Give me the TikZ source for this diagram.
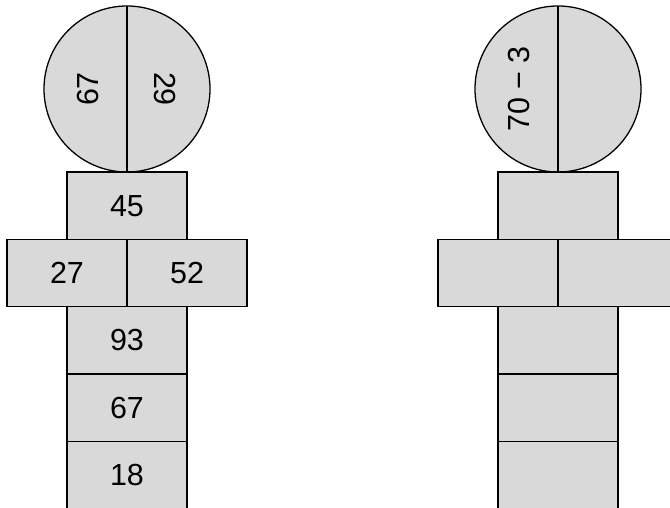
\documentclass[tikz,border=0pt]{standalone}
\usepackage{fontspec}
\setmainfont{Liberation Sans}
\usetikzlibrary{positioning}

\begin{document}
\begin{tikzpicture}[
    x=0.03cm, y=-0.03cm,
    node distance=0pt,
    brick/.style={rectangle, draw=black, line width=1.1pt, fill=black!15, inner sep=0pt, outer sep=0pt, minimum width=3.6cm, minimum height=2.02cm, font=\fontsize{26}{30}\selectfont},
    head/.style={circle, draw=black, line width=1.1pt, fill=black!15, inner sep=0pt, outer sep=0pt, minimum size=4.98cm},
    num/.style={font=\fontsize{26}{30}\selectfont, inner sep=0pt},
    divider/.style={line width=1.1pt}
]
    \useasboundingbox (0,0) rectangle (670,508);
    \clip (0,0) rectangle (670,508);

    % --- LEFT FIGURE ---
    \node[head] (H1) at (127,89) {};
    \draw[divider] (H1.north) -- (H1.south);
    \node[num, rotate=90] (H1a) at (88,89) {67};
    \node[num, rotate=-90] (H1b) at (165,89) {29};
    \node[brick, below=of H1] (A1) {45};
    \node[brick, anchor=north east] (B1) at (A1.south) {27};
    \node[brick, anchor=north west] (C1) at (A1.south) {52};
    \node[brick, anchor=north] (D1) at (B1.south east) {93};
    \node[brick, below=of D1] (E1) {67};
    \node[brick, below=of E1] (F1) {18};

    % --- RIGHT FIGURE ---
    \node[head] (H2) at (558,89) {};
    \draw[divider] (H2.north) -- (H2.south);
    \node[num, rotate=90] (H2a) at (519,89) {70 − 3};
    \node[brick, below=of H2] (A2) {};
    \node[brick, anchor=north east] (B2) at (A2.south) {};
    \node[brick, anchor=north west] (C2) at (A2.south) {};
    \node[brick, anchor=north] (D2) at (B2.south east) {};
    \node[brick, below=of D2] (E2) {};
    \node[brick, below=of E2] (F2) {};

\end{tikzpicture}
\end{document}
